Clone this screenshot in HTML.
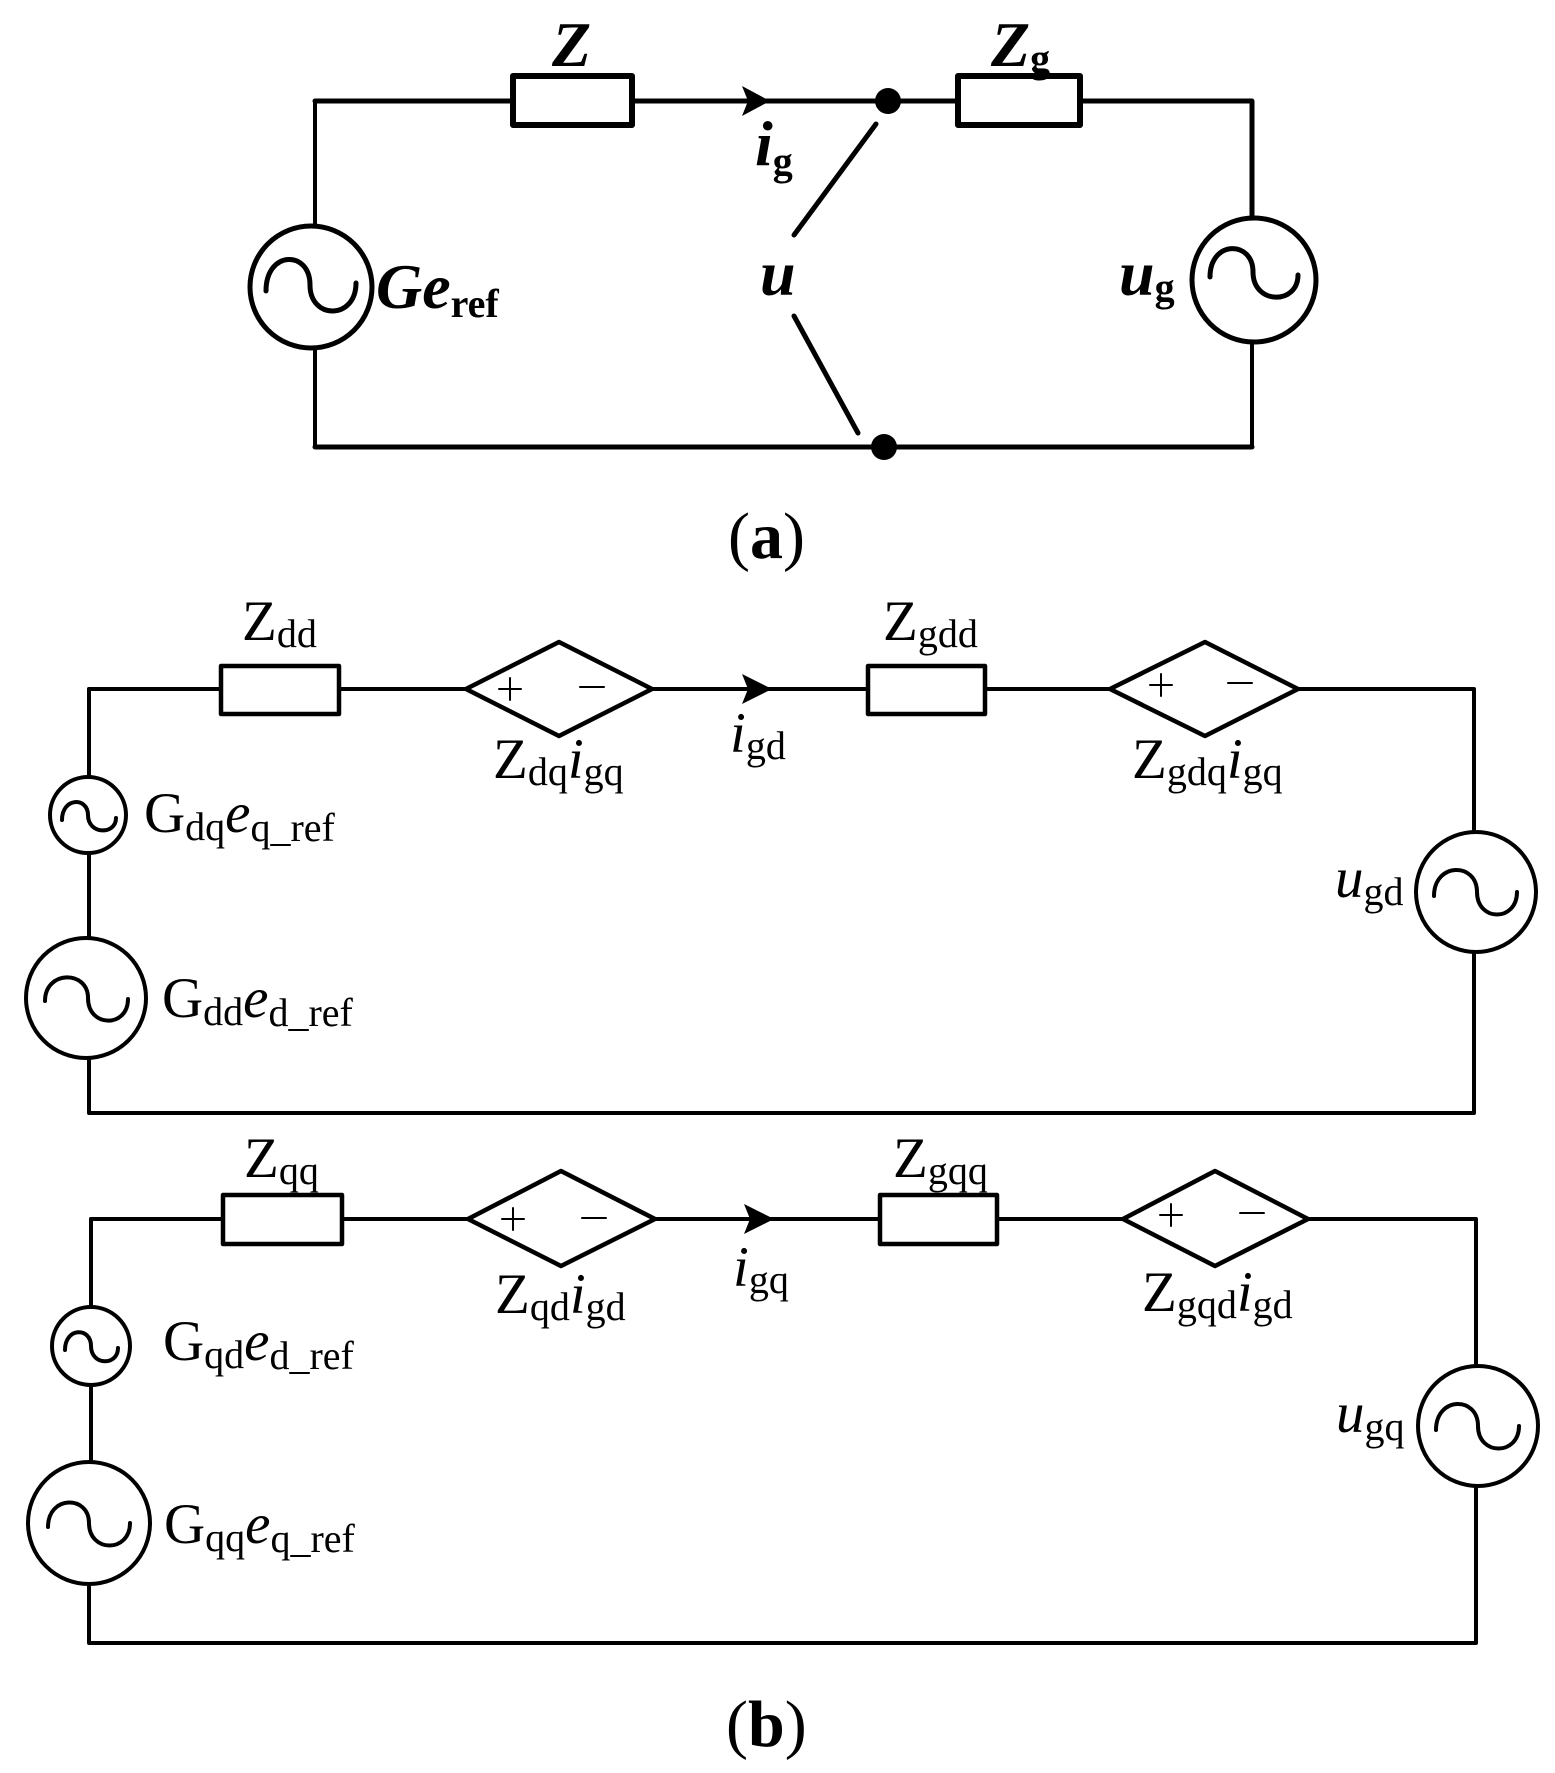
<!DOCTYPE html>
<html><head><meta charset="utf-8"><style>
html,body{margin:0;padding:0;background:#fff;}
svg{display:block;}
text{font-family:"Liberation Serif",serif;fill:#000;}
</style></head><body>
<svg width="1555" height="1773" viewBox="0 0 1555 1773" xmlns="http://www.w3.org/2000/svg">
<g fill="none" stroke="#000" stroke-linecap="round" stroke-linejoin="round">
<!-- (a) -->
<path d="M315 101 H513 M632 101 H958 M1080 101 H1252 V218" stroke-width="5"/>
<path d="M315 101 V225 M315 350 V447 M1252 343 V447" stroke-width="4"/>
<path d="M315 447 H1252" stroke-width="5"/>
<rect x="513" y="76" width="119" height="49" stroke-width="6"/>
<rect x="958" y="76" width="122" height="49" stroke-width="6"/>
<circle cx="311" cy="287" r="61" stroke-width="5"/>
<circle cx="1254" cy="280" r="62" stroke-width="5"/>
<path d="M266 291 C 266 250, 310 250, 310 285 C 310 320, 356 320, 356 283" stroke-width="5"/>
<path d="M1210 277 C 1210 240, 1253 240, 1253 272 C 1253 305, 1298 305, 1298 275" stroke-width="5"/>
<path d="M876 124 L794 235 M794 316 L858 433" stroke-width="5"/>
<!-- (b) d -->
<path d="M89 689 H221 M339 689 H466 M652 689 H868 M985 689 H1110 M1298 689 H1474 V832" stroke-width="4"/>
<path d="M89 689 V777 M89 853 V937 M89 1060 V1113 M1474 953 V1113 M89 1113 H1474" stroke-width="4"/>
<rect x="221" y="666" width="118" height="48" stroke-width="4.5"/>
<rect x="868" y="666" width="117" height="48" stroke-width="4.5"/>
<path d="M466 689 L559 642 L652 689 L559 736 Z" stroke-width="4.5"/>
<path d="M1110 689 L1205 642 L1298 689 L1205 736 Z" stroke-width="4.5"/>
<circle cx="88" cy="815" r="38" stroke-width="4"/>
<circle cx="86" cy="998" r="60" stroke-width="4"/>
<circle cx="1476" cy="892" r="60" stroke-width="4"/>
<path d="M62 820 C 62 797, 88 797, 88 815 C 88 835, 116 835, 116 818" stroke-width="4"/>
<path d="M45 1001 C 45 970, 88 970, 88 998 C 88 1028, 128 1028, 128 999" stroke-width="4"/>
<path d="M1434 896 C 1434 862, 1477 862, 1477 892 C 1477 922, 1517 922, 1517 892" stroke-width="4"/>
<path d="M1150 685 H1172 M1161 674 V696 M1228 683 H1252 M499 689 H521 M510 678 V700 M580 687 H604" stroke-width="2"/>
<!-- (b) q -->
<path d="M91 1219 H223 M342 1219 H468 M655 1219 H880 M997 1219 H1123 M1308 1219 H1476 V1365" stroke-width="4"/>
<path d="M91 1219 V1306 M91 1386 V1461 M89 1585 V1643 M1476 1487 V1643 M89 1643 H1476" stroke-width="4"/>
<rect x="223" y="1195" width="119" height="49" stroke-width="4.5"/>
<rect x="880" y="1195" width="117" height="49" stroke-width="4.5"/>
<path d="M468 1219 L561 1171 L655 1219 L561 1266 Z" stroke-width="4.5"/>
<path d="M1123 1219 L1215 1171 L1308 1219 L1215 1266 Z" stroke-width="4.5"/>
<circle cx="91" cy="1346" r="39" stroke-width="4"/>
<circle cx="89" cy="1523" r="61" stroke-width="4"/>
<circle cx="1478" cy="1426" r="60" stroke-width="4"/>
<path d="M65 1350 C 65 1327, 91 1327, 91 1346 C 91 1366, 118 1366, 118 1348" stroke-width="4"/>
<path d="M48 1527 C 48 1495, 89 1495, 89 1523 C 89 1553, 130 1553, 130 1523" stroke-width="4"/>
<path d="M1436 1430 C 1436 1396, 1478 1396, 1478 1426 C 1478 1456, 1519 1456, 1519 1426" stroke-width="4"/>
<path d="M502 1219 H524 M513 1208 V1230 M582 1218 H606 M1160 1215 H1182 M1171 1204 V1226 M1240 1213 H1264" stroke-width="2"/>
</g>
<g fill="#000" stroke="none">
<circle cx="888" cy="101" r="13"/>
<circle cx="884" cy="447" r="13"/>
<path d="M770 101 L742 86 L748 101 L742 116 Z"/>
<path d="M772 689 L742 674 L748 689 L742 704 Z"/>
<path d="M774 1219 L744 1204 L750 1219 L744 1234 Z"/>
</g>
<!-- labels (a) -->
<g font-weight="bold">
<text x="552" y="66" font-size="64" font-style="italic">Z</text>
<text x="991" y="66" font-size="64" font-style="italic">Z<tspan font-size="40" font-style="normal" dy="6">g</tspan></text>
<text x="755" y="165" font-size="64" font-style="italic">i<tspan font-size="40" font-style="normal" dy="10">g</tspan></text>
<text x="760" y="295" font-size="64" font-style="italic">u</text>
<text x="376" y="308" font-size="64" font-style="italic">Ge<tspan font-size="40" font-style="normal" dy="9">ref</tspan></text>
<text x="1119" y="295" font-size="64" font-style="italic">u<tspan font-size="40" font-style="normal" dy="6">g</tspan></text>
</g>
<text x="728" y="558" font-size="66">(<tspan font-weight="bold">a</tspan>)</text>
<text x="726" y="1746" font-size="66">(<tspan font-weight="bold">b</tspan>)</text>
<!-- labels (b) d -->
<g font-size="57">
<text x="242" y="640">Z<tspan font-size="40" dy="7">dd</tspan></text>
<text x="883" y="640">Z<tspan font-size="40" dy="7">gdd</tspan></text>
<text x="493" y="778">Z<tspan font-size="40" dy="7">dq</tspan><tspan font-style="italic" dy="-7">i</tspan><tspan font-size="40" dy="7">gq</tspan></text>
<text x="730" y="752"><tspan font-style="italic">i</tspan><tspan font-size="40" dy="7">gd</tspan></text>
<text x="1132" y="778">Z<tspan font-size="40" dy="7">gdq</tspan><tspan font-style="italic" dy="-7">i</tspan><tspan font-size="40" dy="7">gq</tspan></text>
<text x="144" y="832">G<tspan font-size="40" dy="8">dq</tspan><tspan font-style="italic" dy="-8">e</tspan><tspan font-size="40" dy="9">q_ref</tspan></text>
<text x="162" y="1017">G<tspan font-size="40" dy="8">dd</tspan><tspan font-style="italic" dy="-8">e</tspan><tspan font-size="40" dy="9">d_ref</tspan></text>
<text x="1335" y="897"><tspan font-style="italic">u</tspan><tspan font-size="40" dy="8">gd</tspan></text>
<!-- (b) q -->
<text x="244" y="1177">Z<tspan font-size="40" dy="7">qq</tspan></text>
<text x="893" y="1177">Z<tspan font-size="40" dy="7">gqq</tspan></text>
<text x="495" y="1313">Z<tspan font-size="40" dy="7">qd</tspan><tspan font-style="italic" dy="-7">i</tspan><tspan font-size="40" dy="7">gd</tspan></text>
<text x="733" y="1286"><tspan font-style="italic">i</tspan><tspan font-size="40" dy="7">gq</tspan></text>
<text x="1142" y="1311">Z<tspan font-size="40" dy="7">gqd</tspan><tspan font-style="italic" dy="-7">i</tspan><tspan font-size="40" dy="7">gd</tspan></text>
<text x="163" y="1360">G<tspan font-size="40" dy="8">qd</tspan><tspan font-style="italic" dy="-8">e</tspan><tspan font-size="40" dy="9">d_ref</tspan></text>
<text x="164" y="1543">G<tspan font-size="40" dy="8">qq</tspan><tspan font-style="italic" dy="-8">e</tspan><tspan font-size="40" dy="9">q_ref</tspan></text>
<text x="1336" y="1432"><tspan font-style="italic">u</tspan><tspan font-size="40" dy="8">gq</tspan></text>
</g>
</svg>
</body></html>
